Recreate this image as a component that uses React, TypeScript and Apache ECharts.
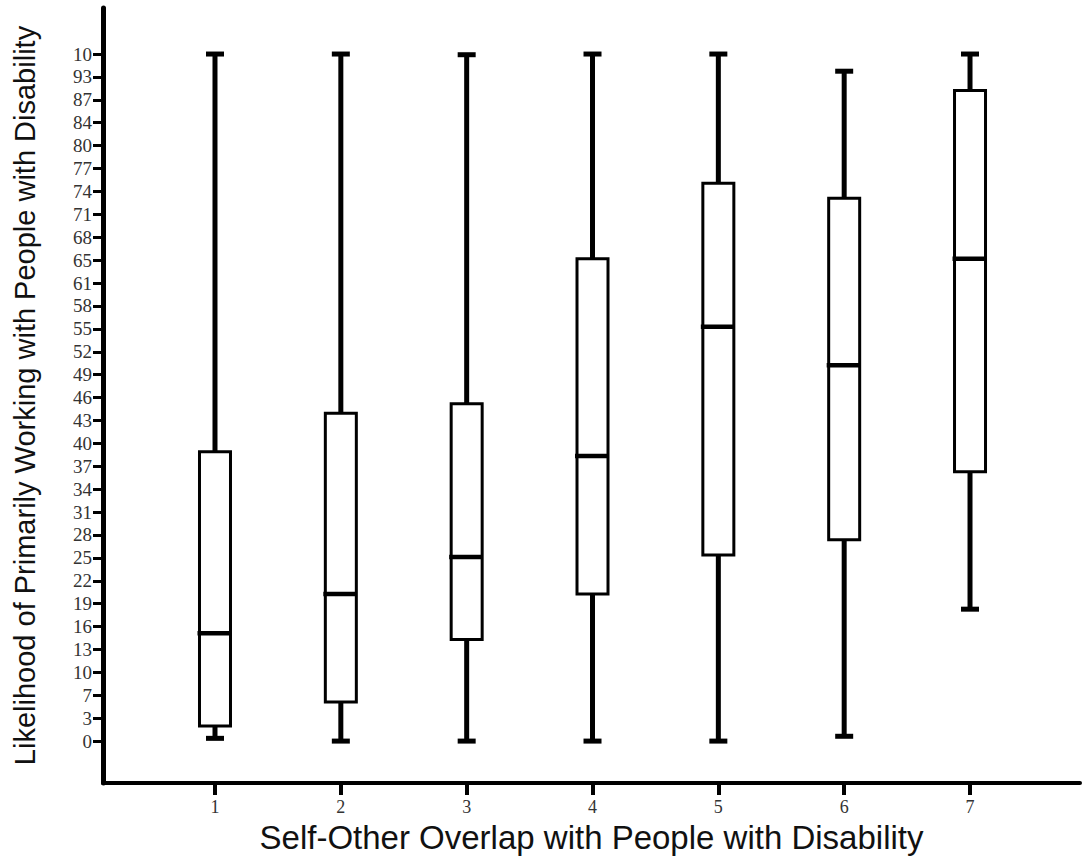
import React, { useEffect, useRef } from "react";
import * as echarts from "echarts";

const categories = [1, 2, 3, 4, 5, 6, 7];
const whiskerLow = [0.4, 0, 0, 0, 0, 0.7, 19.2];
const quartile1 = [2.2, 5.7, 14.8, 21.4, 27.1, 29.3, 39.2];
const medians = [15.7, 21.4, 26.8, 41.5, 60.3, 54.7, 70.2];
const quartile3 = [42.1, 47.7, 49.1, 70.2, 81.2, 79.0, 94.7];
const whiskerHigh = [100, 100, 99.9, 100, 100, 97.5, 100];

const yTickLabels = [
  "0", "3", "7", "10", "13", "16", "19", "22", "25", "28", "31", "34", "37", "40", "43", "46",
  "49", "52", "55", "58", "61", "65", "68", "71", "74", "77", "80", "84", "87", "93", "10",
];
const yTickStep = 100 / (yTickLabels.length - 1);
const yTickValues = yTickLabels.map((_, i) => i * yTickStep);

export default function App() {
  const ref = useRef<HTMLDivElement>(null);
  useEffect(() => {
    if (!ref.current) return;
    const chart = echarts.init(ref.current, undefined, { renderer: "svg" });
    const data = categories.map((c, i) => [c, whiskerLow[i], quartile1[i], medians[i], quartile3[i], whiskerHigh[i]]);
    const BOX_W = 31;
    const CAP_W = 18;
    const option: any = {
      animation: false,
      backgroundColor: "#ffffff",
      grid: { left: 103, right: 9, top: 8, bottom: 84, containLabel: false },
      xAxis: {
        type: "value",
        min: 0.11,
        max: 7.874,
        name: "Self-Other Overlap with People with Disability",
        nameLocation: "middle",
        nameGap: 36,
        nameTextStyle: { fontFamily: "Liberation Sans", fontSize: 33, color: "#111" },
        axisLine: { show: true, onZero: false, lineStyle: { color: "#000", width: 4 } },
        axisTick: { show: true, length: 12, lineStyle: { color: "#000", width: 4 }, customValues: categories },
        axisLabel: {
          show: true,
          margin: 15,
          fontFamily: "Liberation Serif",
          fontSize: 18,
          color: "#333",
          customValues: categories,
          formatter: (v: number) => String(Math.round(v)),
        },
        splitLine: { show: false },
      },
      yAxis: {
        type: "value",
        min: -6.1,
        max: 106.7,
        name: "Likelihood of Primarily Working with People with Disability",
        nameLocation: "middle",
        nameGap: 64,
        nameTextStyle: { fontFamily: "Liberation Sans", fontSize: 29, color: "#111" },
        axisLine: { show: true, onZero: false, lineStyle: { color: "#000", width: 5 } },
        axisTick: { show: true, length: 10, lineStyle: { color: "#000", width: 3 }, customValues: yTickValues },
        axisLabel: {
          show: true,
          margin: 11,
          fontFamily: "Liberation Serif",
          fontSize: 19,
          color: "#333",
          customValues: yTickValues,
          formatter: (v: number) => yTickLabels[Math.round(v / yTickStep)] ?? "",
        },
        splitLine: { show: false },
      },
      series: [
        {
          type: "custom",
          data,
          encode: { x: 0, y: [1, 2, 3, 4, 5] },
          renderItem: (params: any, api: any) => {
            const x = api.value(0);
            const pMin = api.coord([x, api.value(1)]);
            const pQ1 = api.coord([x, api.value(2)]);
            const pMed = api.coord([x, api.value(3)]);
            const pQ3 = api.coord([x, api.value(4)]);
            const pMax = api.coord([x, api.value(5)]);
            const cx = pMed[0];
            const stroke = { stroke: "#000", fill: "none" };
            return {
              type: "group",
              children: [
                { type: "line", shape: { x1: cx, y1: pQ3[1], x2: cx, y2: pMax[1] }, style: { ...stroke, lineWidth: 5 } },
                { type: "line", shape: { x1: cx, y1: pMin[1], x2: cx, y2: pQ1[1] }, style: { ...stroke, lineWidth: 5 } },
                { type: "line", shape: { x1: cx - CAP_W / 2, y1: pMax[1], x2: cx + CAP_W / 2, y2: pMax[1] }, style: { ...stroke, lineWidth: 5 } },
                { type: "line", shape: { x1: cx - CAP_W / 2, y1: pMin[1], x2: cx + CAP_W / 2, y2: pMin[1] }, style: { ...stroke, lineWidth: 5 } },
                {
                  type: "rect",
                  shape: { x: cx - BOX_W / 2, y: pQ3[1], width: BOX_W, height: pQ1[1] - pQ3[1] },
                  style: { fill: "#fff", stroke: "#000", lineWidth: 3 },
                },
                { type: "line", shape: { x1: cx - BOX_W / 2 - 2, y1: pMed[1], x2: cx + BOX_W / 2, y2: pMed[1] }, style: { ...stroke, lineWidth: 4.5 } },
              ],
            };
          },
        },
      ],
    };
    chart.setOption(option);
    return () => chart.dispose();
  }, []);
  return <div ref={ref} style={{ position: "fixed", left: 0, top: 0, width: 1089, height: 867 }} />;
}
